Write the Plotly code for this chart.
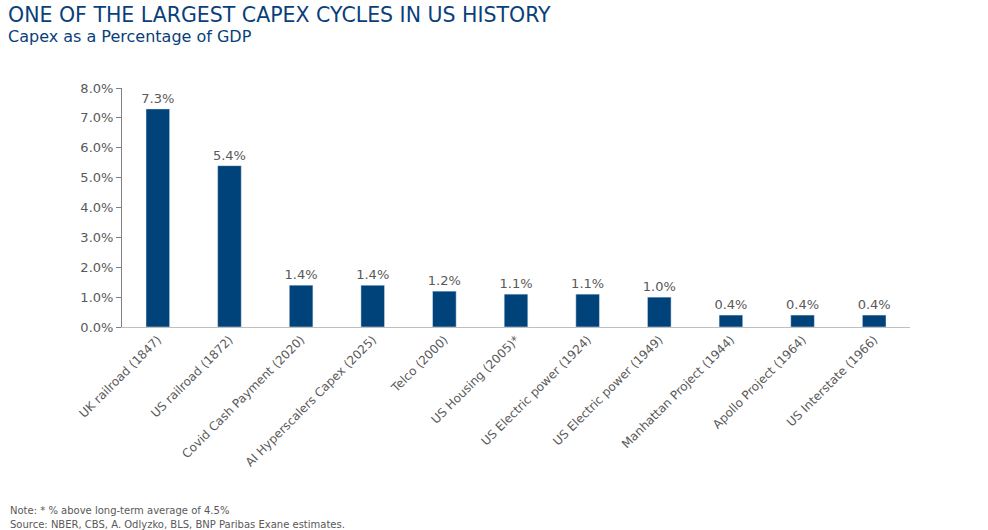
import plotly.graph_objects as go

categories = ["UK railroad (1847)", "US railroad (1872)", "Covid Cash Payment (2020)",
              "AI Hyperscalers Capex (2025)", "Telco (2000)", "US Housing (2005)*",
              "US Electric power (1924)", "US Electric power (1949)", "Manhattan Project (1944)",
              "Apollo Project (1964)", "US Interstate (1966)"]
values = [7.3, 5.4, 1.4, 1.4, 1.2, 1.1, 1.1, 1.0, 0.4, 0.4, 0.4]
y_ticks = [0, 1, 2, 3, 4, 5, 6, 7, 8]

FONT = "DejaVu Sans"
BAR = "#00427a"
GREY = "#595959"
TITLE = "#0a3f7a"

W, H = 988, 530
l, r, t, b = 122, 78, 88, 203
pw, ph = W - l - r, H - t - b


def px(x, y):
    return (x - l) / pw, (H - b - y) / ph


fig = go.Figure(go.Bar(
    x=categories, y=values, marker_color=BAR, width=0.33,
    text=[f"{v:.1f}%" for v in values], textposition="outside",
    constraintext="none",
    textfont=dict(family=FONT, size=13, color=GREY), cliponaxis=False,
))

texts = [
    ("ONE OF THE LARGEST CAPEX CYCLES IN US HISTORY", 6, 15, 20.5, TITLE),
    ("Capex as a Percentage of GDP", 6, 36, 16, TITLE),
    ("Note: * % above long-term average of 4.5%", 8, 510, 10, GREY),
    ("Source: NBER, CBS, A. Odlyzko, BLS, BNP Paribas Exane estimates.", 8, 524, 10, GREY),
]
annotations = []
for txt, x, y, size, col in texts:
    ax, ay = px(x, y)
    annotations.append(dict(text=txt, x=ax, y=ay, xref="paper", yref="paper", showarrow=False,
                            xanchor="left", yanchor="middle",
                            font=dict(family=FONT, size=size, color=col)))

fig.update_layout(
    width=W, height=H,
    margin=dict(l=l, r=r, t=t, b=b),
    paper_bgcolor="white", plot_bgcolor="white",
    showlegend=False,
    font=dict(family=FONT, color=GREY),
    xaxis=dict(showline=True, linecolor="#bfbfbf", linewidth=1, ticks="", showgrid=False,
               tickangle=-45, tickfont=dict(family=FONT, size=12, color=GREY)),
    yaxis=dict(range=[0, 8], tickvals=y_ticks, ticktext=[f"{v:.1f}%" for v in y_ticks],
               showline=True, linecolor="#808080", linewidth=1, ticks="outside", ticklen=5,
               tickcolor="#808080", showgrid=False, zeroline=False,
               tickfont=dict(family=FONT, size=13, color=GREY)),
    annotations=annotations,
)

fig.write_html("out.html", config={"displayModeBar": False},
               post_script="document.body.style.margin='0';document.body.style.overflow='hidden';")
